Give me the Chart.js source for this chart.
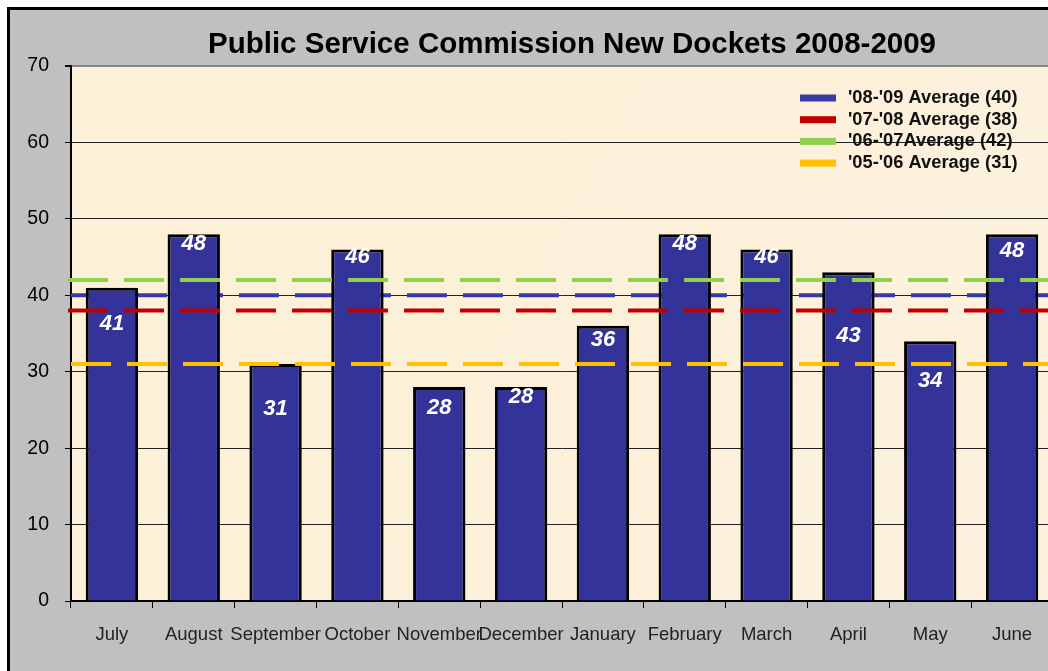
<!DOCTYPE html>
<html>
<head>
	<meta charset="utf-8">
	<title>Public Service Commission New Dockets 2008-2009</title>
	<style>
		html, body { margin: 0; padding: 0; overflow: hidden; background: #fff; }
		canvas { display: block; }
	</style>
</head>
<body>
	<canvas id="chart" width="1144" height="671" style="width:1144px;height:671px"></canvas>
	<script src="https://cdn.jsdelivr.net/npm/chart.js@4.4.0/dist/chart.umd.min.js"></script>
	<script>
		'use strict'

		// data
		const months = ['July', 'August', 'September', 'October', 'November', 'December',
			'January', 'February', 'March', 'April', 'May', 'June']
		const dockets = [41, 48, 31, 46, 28, 28, 36, 48, 46, 43, 34, 48]
		const avgNames = ["'08-'09 Average (40)", "'07-'08 Average (38)", "'06-'07Average (42)", "'05-'06 Average (31)"]
		const avgValues = [40, 38, 42, 31]
		const yTicks = [0, 10, 20, 30, 40, 50, 60, 70]

		// looks
		const avgColors = ['#3a3aa2', '#c00000', '#92d050', '#ffc000']
		const avgUnderBars = [true, false, false, false]
		const avgDashStart = [0, -3, -3, 0]
		// where each white number sits below its bar top, in pixels
		const labelNudge = [36, 10, 45, 8, 21, 10, 14, 10, 8, 64, 40, 17]
		const font = '"Liberation Sans", Arial, sans-serif'

		const frame = {
			id: 'frame',
			beforeDraw(chart) {
				const { ctx, chartArea: a, width, height } = chart
				ctx.save()
				ctx.fillStyle = '#fff'
				ctx.fillRect(0, 0, width, height)
				ctx.fillStyle = '#c0c0c0'
				ctx.fillRect(8, 8, width, height)
				ctx.fillStyle = '#000'
				ctx.fillRect(7, 7, width, 3)
				ctx.fillRect(7, 7, 3, height)
				// plot paper
				const g = ctx.createLinearGradient(a.left, a.top, a.right, a.bottom)
				g.addColorStop(0, '#fdf0d8')
				g.addColorStop(0.5, '#fcf0da')
				g.addColorStop(1, '#fdf2df')
				ctx.fillStyle = g
				ctx.fillRect(a.left, a.top, a.right - a.left, a.bottom - a.top)
				ctx.restore()
			}
		}

		function drawAverage(chart, i) {
			const { ctx, chartArea: a } = chart
			const y = chart.scales.y.getPixelForValue(avgValues[i])
			ctx.save()
			ctx.strokeStyle = avgColors[i]
			ctx.lineWidth = 4
			ctx.setLineDash([40, 16])
			ctx.beginPath()
			ctx.moveTo(a.left + avgDashStart[i], y)
			ctx.lineTo(a.right, y)
			ctx.stroke()
			ctx.restore()
		}

		const averages = {
			id: 'averages',
			beforeDatasetsDraw(chart) {
				avgValues.forEach((v, i) => { if (avgUnderBars[i]) drawAverage(chart, i) })
			},
			afterDatasetsDraw(chart) {
				avgValues.forEach((v, i) => { if (!avgUnderBars[i]) drawAverage(chart, i) })

				const { ctx } = chart
				const meta = chart.getDatasetMeta(0)
				ctx.save()
				// bar numbers
				ctx.fillStyle = '#fff'
				ctx.font = 'italic bold 22px ' + font
				ctx.textAlign = 'center'
				ctx.textBaseline = 'middle'
				meta.data.forEach((bar, i) => {
					ctx.fillText(String(dockets[i]), bar.x, bar.y + labelNudge[i])
				})
				// legend
				const lx = 800
				const ly = chart.chartArea.top + 32
				ctx.font = 'bold 18.3px ' + font
				ctx.textAlign = 'left'
				avgNames.forEach((name, i) => {
					const y = ly + i * 21.7
					ctx.fillStyle = avgColors[i]
					ctx.fillRect(lx, y - 3.5, 36, 7)
					ctx.fillStyle = '#111'
					ctx.fillText(name, lx + 48, y)
				})
				ctx.restore()
			}
		}

		const chart = new Chart(document.getElementById('chart'), {
			type: 'bar',
			data: {
				labels: months,
				datasets: [{
					label: 'New Dockets',
					data: dockets,
					backgroundColor: '#333399',
					borderColor: '#000',
					borderWidth: 3,
					barPercentage: 0.64,
					categoryPercentage: 1
				}]
			},
			options: {
				responsive: false,
				animation: false,
				devicePixelRatio: 1,
				layout: { padding: 0 },
				plugins: {
					legend: { display: false },
					tooltip: { enabled: false },
					title: {
						display: true,
						text: 'Public Service Commission New Dockets 2008-2009',
						color: '#000',
						font: { family: font, size: 29.5, weight: 'bold', lineHeight: 1.2 },
						padding: { top: 27, bottom: 3.6 }
					}
				},
				scales: {
					x: {
						grid: { drawOnChartArea: false, tickLength: 7, tickColor: '#000', tickWidth: 1 },
						border: { color: '#000', width: 2 },
						ticks: {
							autoSkip: false, maxRotation: 0, minRotation: 0, padding: 16,
							color: '#222', font: { family: font, size: 18.5 }
						},
						afterFit(s) { s.height = 70 }
					},
					y: {
						min: 0, max: 70,
						afterBuildTicks(s) { s.ticks = yTicks.map(v => ({ value: v })) },
						grid: {
							color: c => c.tick && c.tick.value === 70 ? '#888' : '#222',
							lineWidth: c => c.tick && c.tick.value === 70 ? 2 : 1,
							tickLength: 6, tickColor: '#000'
						},
						border: { color: '#000', width: 2 },
						ticks: { padding: 16, color: '#000', font: { family: font, size: 19.5 } },
						afterFit(s) { s.width = 71 }
					},
					// empty right-hand strip, off screen, so the title centres like the original
					spare: {
						position: 'right', min: 0, max: 70,
						grid: { display: false }, border: { display: false },
						ticks: { display: false },
						afterFit(s) { s.width = 91 }
					}
				}
			},
			plugins: [frame, averages]
		})
	</script>
</body>
</html>
